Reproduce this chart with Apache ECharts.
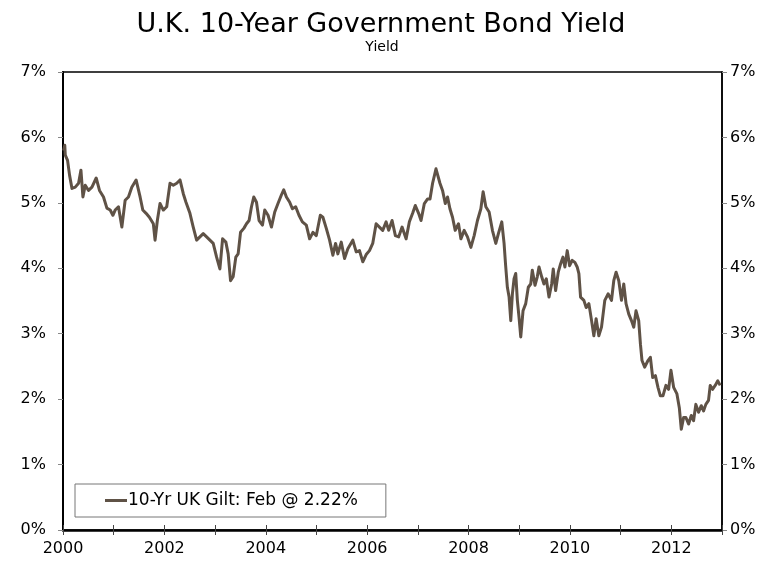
<!DOCTYPE html>
<html>
<head>
<meta charset="utf-8">
<script src="https://cdn.jsdelivr.net/npm/echarts@6/dist/echarts.min.js"></script>
<style>
html,body{margin:0;padding:0;background:#fff;}
#chart{width:778px;height:561px;}
</style>
</head>
<body>
<div id="chart"></div>
<script>
// Time in decimal years
var years = [
2000.012,2000.035,2000.045,2000.090,2000.130,2000.177,2000.242,2000.307,2000.354,2000.393,
2000.439,2000.504,2000.571,2000.655,2000.720,2000.799,2000.866,2000.931,2000.984,2001.029,
2001.094,2001.161,2001.226,2001.291,2001.357,2001.442,2001.521,2001.574,2001.639,2001.704,
2001.782,2001.816,2001.861,2001.914,2001.979,2002.046,2002.111,2002.176,2002.243,2002.308,
2002.373,2002.426,2002.504,2002.569,2002.636,2002.701,2002.766,2002.833,2002.898,2002.963,
2003.030,2003.095,2003.148,2003.213,2003.258,2003.305,2003.356,2003.409,2003.455,2003.502,
2003.567,2003.620,2003.671,2003.718,2003.763,2003.817,2003.868,2003.935,2003.980,2004.045,
2004.112,2004.177,2004.241,2004.308,2004.354,2004.407,2004.472,2004.525,2004.590,2004.655,
2004.722,2004.800,2004.865,2004.930,2004.997,2005.076,2005.127,2005.194,2005.259,2005.324,
2005.377,2005.422,2005.489,2005.554,2005.619,2005.717,2005.784,2005.849,2005.914,2005.981,
2006.046,2006.110,2006.177,2006.242,2006.307,2006.374,2006.425,2006.492,2006.557,2006.622,
2006.689,2006.768,2006.833,2006.897,2006.950,2007.015,2007.063,2007.128,2007.193,2007.240,
2007.291,2007.358,2007.389,2007.436,2007.487,2007.541,2007.586,2007.633,2007.684,2007.737,
2007.802,2007.849,2007.914,2007.979,2008.046,2008.111,2008.176,2008.243,2008.288,2008.341,
2008.406,2008.471,2008.538,2008.589,2008.656,2008.701,2008.731,2008.766,2008.800,2008.833,
2008.865,2008.898,2008.931,2008.963,2008.996,2009.030,2009.075,2009.128,2009.179,2009.227,
2009.258,2009.311,2009.356,2009.390,2009.443,2009.488,2009.534,2009.587,2009.640,2009.671,
2009.718,2009.770,2009.817,2009.862,2009.901,2009.947,2009.994,2010.045,2010.098,2010.143,
2010.177,2010.210,2010.275,2010.321,2010.374,2010.427,2010.472,2010.517,2010.570,2010.623,
2010.688,2010.753,2010.820,2010.865,2010.911,2010.964,2011.017,2011.062,2011.107,2011.161,
2011.214,2011.259,2011.304,2011.357,2011.391,2011.422,2011.475,2011.540,2011.587,2011.633,
2011.686,2011.737,2011.784,2011.835,2011.894,2011.947,2011.993,2012.046,2012.111,2012.158,
2012.197,2012.243,2012.288,2012.341,2012.394,2012.439,2012.484,2012.538,2012.591,2012.636,
2012.681,2012.734,2012.768,2012.813,2012.866,2012.917,2012.964
];
// 10-year gilt yield, percent
var yields = [
5.80,5.88,5.73,5.65,5.42,5.22,5.24,5.30,5.50,5.09,
5.27,5.19,5.24,5.38,5.19,5.09,4.92,4.89,4.81,4.89,
4.94,4.63,5.04,5.09,5.24,5.35,5.09,4.89,4.84,4.78,
4.68,4.43,4.73,4.99,4.89,4.94,5.30,5.27,5.30,5.35,
5.14,5.01,4.84,4.63,4.43,4.48,4.53,4.48,4.43,4.38,
4.17,3.99,4.45,4.40,4.22,3.81,3.87,4.17,4.22,4.55,
4.61,4.68,4.73,4.94,5.09,5.01,4.73,4.66,4.89,4.81,
4.63,4.86,4.99,5.12,5.20,5.09,5.01,4.91,4.94,4.81,
4.71,4.66,4.45,4.55,4.50,4.81,4.78,4.61,4.43,4.20,
4.38,4.22,4.40,4.15,4.30,4.43,4.25,4.27,4.10,4.21,
4.27,4.38,4.68,4.63,4.58,4.71,4.58,4.73,4.50,4.48,
4.63,4.45,4.71,4.84,4.96,4.84,4.73,4.99,5.06,5.06,
5.30,5.52,5.55,5.30,5.19,4.99,5.09,4.91,4.78,4.58,
4.68,4.45,4.58,4.48,4.32,4.50,4.73,4.91,5.17,4.94,
4.86,4.58,4.38,4.53,4.71,4.38,4.05,3.71,3.56,3.20,
3.61,3.84,3.92,3.51,3.25,2.95,3.35,3.46,3.71,3.76,
3.97,3.74,3.87,4.02,3.87,3.76,3.84,3.56,3.76,3.99,
3.66,3.94,4.07,4.17,4.02,4.27,4.04,4.12,4.09,4.02,
3.92,3.56,3.51,3.40,3.46,3.20,2.97,3.23,2.97,3.10,
3.51,3.61,3.51,3.81,3.94,3.81,3.51,3.76,3.46,3.30,
3.20,3.10,3.35,3.20,2.84,2.59,2.49,2.59,2.64,2.33,
2.36,2.18,2.05,2.05,2.21,2.15,2.44,2.18,2.08,1.87,
1.54,1.72,1.72,1.62,1.75,1.67,1.92,1.80,1.90,1.82,
1.92,1.98,2.21,2.15,2.21,2.28,2.21
];
var yTicks = ['0%','1%','2%','3%','4%','5%','6%','7%'];
var seriesName = '10-Yr UK Gilt: Feb @ 2.22%';
var titleText = 'U.K. 10-Year Government Bond Yield';
var subtitleText = 'Yield';

var pts = years.map(function(y, i){ return [y, yields[i]]; });
var FONT = 'DejaVu Sans';
var chart = echarts.init(document.getElementById('chart'));

function yAxisCfg(pos, lw, margin){
  return {
    type:'value', position:pos, min:0, max:7, interval:1,
    axisLine:{show:true, lineStyle:{color:'#000', width:lw}},
    axisTick:{show:true, length:5, lineStyle:{color:'#888', width:1}},
    axisLabel:{color:'#000', fontFamily:FONT, fontSize:16, margin:margin,
      formatter:function(v){ return yTicks[Math.round(v)]; }},
    splitLine:{show:false}
  };
}

chart.setOption({
  animation:false,
  backgroundColor:'#fff',
  textStyle:{fontFamily:FONT},
  title:[
    {text:titleText, left:376, top:6, textAlign:'center',
     textStyle:{fontFamily:FONT, fontSize:27, fontWeight:'normal', color:'#000'}},
    {text:subtitleText, left:377, top:35, textAlign:'center',
     textStyle:{fontFamily:FONT, fontSize:14, fontWeight:'normal', color:'#000'}}
  ],
  legend:{
    data:[{name:seriesName, icon:'rect'}],
    left:75, top:484, orient:'horizontal',
    itemWidth:22, itemHeight:3, itemGap:0,
    padding:[8, 28, 8, 30],
    borderColor:'#777', borderWidth:1, backgroundColor:'#fff',
    textStyle:{fontFamily:FONT, fontSize:17, color:'#000', padding:[0,0,0,-4]},
    selectedMode:false
  },
  grid:{left:63, right:56, top:72, bottom:31, show:true, borderColor:'#000', borderWidth:1.5, backgroundColor:'#fff'},
  xAxis:[
    {type:'value', position:'bottom', min:2000, max:2013, interval:1,
     axisLine:{show:true, onZero:false, lineStyle:{color:'#000', width:2.5}},
     axisTick:{show:true, length:5, lineStyle:{color:'#444', width:1}},
     axisLabel:{color:'#000', fontFamily:FONT, fontSize:16, margin:11,
       formatter:function(v){ return (Math.round(v) % 2 === 0 && v < 2013) ? String(Math.round(v)) : ''; }},
     splitLine:{show:false}},
    {type:'value', position:'bottom', min:2000, max:2013, interval:1,
     axisLine:{show:false, onZero:false},
     axisTick:{show:true, inside:true, length:5, lineStyle:{color:'#444', width:1}},
     axisLabel:{show:false}, splitLine:{show:false}}
  ],
  yAxis:[ yAxisCfg('left', 2, 17), yAxisCfg('right', 1.5, 8) ],
  series:[{
    name:seriesName, type:'line', data:pts, xAxisIndex:0, yAxisIndex:0,
    showSymbol:false, symbol:'none', smooth:false,
    itemStyle:{color:'#5f5246'},
    lineStyle:{color:'#5f5246', width:3, join:'round'}
  }]
});
</script>
</body>
</html>
